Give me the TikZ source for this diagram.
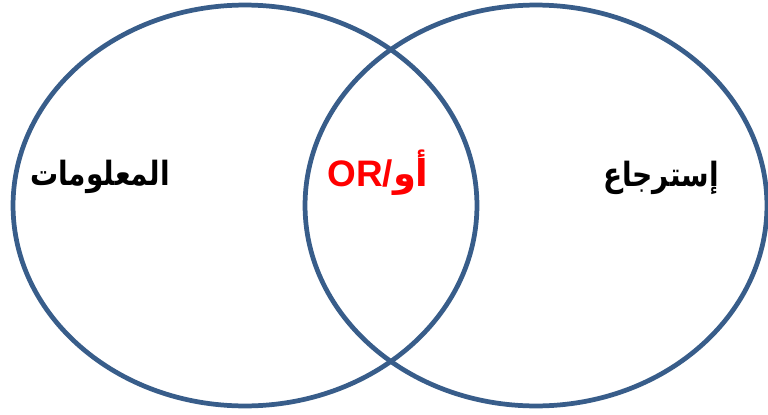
\documentclass[tikz,border=0pt]{standalone}
\usepackage{fontspec}
\usepackage{tikz}
\setmainfont{Liberation Sans}
\newfontfamily\arabicfont[Script=Arabic]{DejaVu Sans}
\TeXXeTstate=1
\definecolor{vennblue}{RGB}{56,93,138}
\definecolor{orred}{RGB}{255,0,0}
\tikzset{
  venn/.style={draw=vennblue,line width=2.7pt},
  lab/.style={font=\fontsize{19}{22}\selectfont\bfseries,inner sep=0pt},
  arlab/.style={lab,xscale=0.84,transform shape},
  orlab/.style={lab,font=\fontsize{21}{24}\selectfont\bfseries,text=orred},
}

\begin{document}
\begin{tikzpicture}[x=0.02cm,y=0.02cm]
  \path[use as bounding box] (0,0) rectangle (768,414);
  % the two sets
  \draw[venn] (245,208.5) ellipse [x radius=4.64cm,y radius=4.01cm];
  \draw[venn] (536,208.5) ellipse [x radius=4.62cm,y radius=4.01cm];

  \node[arlab] (info) at (100,237) {\arabicfont\bfseries\beginR المعلومات\endR};
  \node[orlab] (orword) at (378,241) {OR/\arabicfont\bfseries\beginR أو\endR};
  \node[arlab] (retr) at (661,236) {\arabicfont\bfseries\beginR إسترجاع\endR};
\end{tikzpicture}
\end{document}
